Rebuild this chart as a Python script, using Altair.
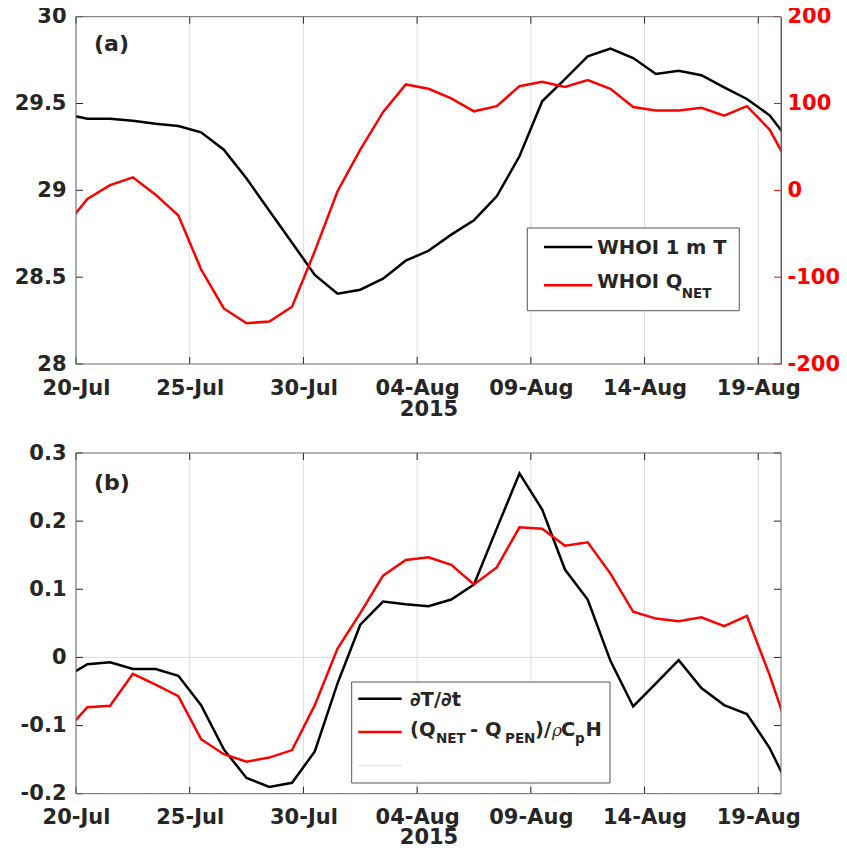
import altair as alt
import pandas as pd

# ---------------- data (daily values at noon, 19-Jul 12:00 .. 20-Aug 12:00, 2015) ----------------
dates = [d.strftime("%Y-%m-%dT%H:%M:%SZ")
         for d in pd.date_range("2015-07-19 12:00", periods=33, freq="D")]

T_1m = [29.439, 29.413, 29.413, 29.401, 29.384, 29.371, 29.334, 29.234, 29.068, 28.883,
        28.698, 28.513, 28.405, 28.428, 28.491, 28.595, 28.652, 28.745, 28.828, 28.966,
        29.196, 29.513, 29.640, 29.772, 29.816, 29.762, 29.670, 29.689, 29.663, 29.593,
        29.526, 29.432, 29.262]

Q_net = [-42, -10, 6, 15, -5, -29, -91, -136, -153, -151,
         -134, -70, -1, 47, 90, 122, 117, 106, 91, 97,
         120, 125, 119, 127, 117, 96, 92, 92, 95, 86,
         97, 70, 22]

dTdt = [-0.030, -0.010, -0.007, -0.017, -0.017, -0.027, -0.070, -0.135, -0.177, -0.190,
        -0.184, -0.138, -0.038, 0.048, 0.082, 0.078, 0.075, 0.085, 0.107, 0.189,
        0.270, 0.217, 0.129, 0.085, -0.005, -0.072, -0.038, -0.004, -0.045, -0.070,
        -0.083, -0.133, -0.201]

Q_term = [-0.110, -0.073, -0.071, -0.024, -0.040, -0.057, -0.120, -0.142, -0.153, -0.147,
          -0.136, -0.070, 0.013, 0.065, 0.120, 0.143, 0.147, 0.136, 0.107, 0.132,
          0.191, 0.189, 0.164, 0.169, 0.123, 0.067, 0.057, 0.053, 0.059, 0.046,
          0.061, -0.026, -0.124]

x_ticks = ["2015-07-20", "2015-07-25", "2015-07-30", "2015-08-04",
           "2015-08-09", "2015-08-14", "2015-08-19"]
x_domain = ["2015-07-20", "2015-08-20"]
t_ticks = [28, 28.5, 29, 29.5, 30]
q_ticks = [-200, -100, 0, 100, 200]
b_ticks = [-0.2, -0.1, 0, 0.1, 0.2, 0.3]
zero_line = [0]

# ---------------- layout constants (pixels, origin = top-left of panel a) ----------------
W = 705
H = 777            # whole drawing area (both panels + gap)
HA = 347.3         # bottom edge of panel (a)
B0 = 436.3         # top edge of panel (b)
FONT = "DejaVu Sans"
DARK = "#262626"
FRAME = "#6b6b6b"
GRID = "#dcdcdc"
TICK = 7
LW = 2.5
MINUS_FIX = "replace(datum.label, '\u2212', '-')"


def dt(s):
    y, m, d = map(int, s.split("-"))
    return alt.DateTime(year=y, month=m, date=d, utc=True)


x_scale = alt.Scale(type="utc", domain=[dt(s) for s in x_domain])


def x_axis(offset, title_pad):
    return alt.Axis(values=[dt(s) for s in x_ticks], format="%d-%b", title="2015",
                    orient="bottom", grid=False, ticks=False, tickSize=0, domain=False,
                    labelPadding=13, titlePadding=title_pad, labelFlush=False,
                    labelOverlap=False, offset=offset)


x_top = alt.X("date:T", scale=x_scale, axis=x_axis(-(H - HA), 0))
x_bot = alt.X("date:T", scale=x_scale, axis=x_axis(0, -1))
x_hidden = alt.X("date:T", scale=x_scale, axis=None)

xt_df = pd.DataFrame({"date": [s + "T00:00:00Z" for s in x_ticks]})


def one():
    return alt.Chart(alt.Data(values=[{"a": 1}]))


def text_layer(txt, x, y, size=19.5, color=DARK, style="normal", weight="bold", font=FONT):
    return one().mark_text(
        text=txt, font=font, fontSize=size, fontWeight=weight, fontStyle=style,
        color=color, align="left", baseline="alphabetic"
    ).encode(x=alt.value(x), y=alt.value(y))


def hline(x1, x2, y, color, width=LW):
    return one().mark_rule(color=color, strokeWidth=width).encode(
        x=alt.value(x1), x2=alt.value(x2), y=alt.value(y))


def box(x1, x2, y1, y2, stroke="#555555", fill_opacity=1):
    return one().mark_rect(fill="white", fillOpacity=fill_opacity, stroke=stroke, strokeWidth=1).encode(
        x=alt.value(x1), x2=alt.value(x2), y=alt.value(y1), y2=alt.value(y2))


def vticks(xenc, y_top, y_bot):
    grid = alt.Chart(xt_df).mark_rule(color=GRID, strokeWidth=1).encode(
        x=xenc, y=alt.value(y_top), y2=alt.value(y_bot))
    tb = alt.Chart(xt_df).mark_rule(color=DARK, strokeWidth=1).encode(
        x=xenc, y=alt.value(y_bot - TICK), y2=alt.value(y_bot))
    tt = alt.Chart(xt_df).mark_rule(color=DARK, strokeWidth=1).encode(
        x=xenc, y=alt.value(y_top), y2=alt.value(y_top + TICK))
    return grid, tb, tt


# ---------------- panel (a) ----------------
top_df = pd.DataFrame({"date": dates, "T": T_1m, "Q": Q_net})

yT = alt.Y("T:Q", scale=alt.Scale(domain=[28, 30], range=[HA, 0]),
           axis=alt.Axis(values=t_ticks, format="~g", title=None, orient="left",
                         ticks=False, tickSize=0, domain=False, grid=False, labelPadding=10))
yQ = alt.Y("Q:Q", scale=alt.Scale(domain=[-200, 200], range=[HA, 0]),
           axis=alt.Axis(values=q_ticks, format="d", title=None, orient="right",
                         ticks=False, tickSize=0, domain=True, domainColor="#ff0000",
                         domainWidth=1, grid=False, labelColor="#ff0000", labelPadding=6,
                         labelExpr=MINUS_FIX))

grid_a, xtb_a, xtt_a = vticks(x_top, 0, HA)
t_line = alt.Chart(top_df).mark_line(color="black", strokeWidth=LW, clip=True).encode(x=x_top, y=yT)
t_ticks_l = alt.Chart(pd.DataFrame({"T": t_ticks})).mark_rule(color=DARK, strokeWidth=1).encode(
    y=yT, x=alt.value(0), x2=alt.value(TICK))
panel_a_left = alt.layer(grid_a, t_line, t_ticks_l, xtb_a, xtt_a)

q_line = alt.Chart(top_df).mark_line(color="#ff0000", strokeWidth=LW, clip=True).encode(x=x_hidden, y=yQ)
q_ticks_r = alt.Chart(pd.DataFrame({"Q": q_ticks})).mark_rule(color="#ff0000", strokeWidth=1).encode(
    y=yQ, x=alt.value(W - TICK), x2=alt.value(W))
panel_a_right = alt.layer(q_line, q_ticks_r)

# ---------------- panel (b) ----------------
series_names = ["dTdt", "Qterm"]
bot_df = pd.DataFrame({
    "date": dates * 2,
    "value": dTdt + Q_term,
    "series": [series_names[0]] * len(dates) + [series_names[1]] * len(dates),
})

yB = alt.Y("value:Q", scale=alt.Scale(domain=[-0.2, 0.3], range=[H, B0]),
           axis=alt.Axis(values=b_ticks, format="~g", title=None, orient="left",
                         ticks=False, tickSize=0, domain=False, grid=False, labelPadding=10,
                         labelExpr=MINUS_FIX))

grid_b, xtb_b, xtt_b = vticks(x_bot, B0, H)
zero = alt.Chart(pd.DataFrame({"value": zero_line})).mark_rule(color=GRID, strokeWidth=1).encode(
    y=yB, x=alt.value(0), x2=alt.value(W))
b_lines = alt.Chart(bot_df).mark_line(strokeWidth=LW, clip=True).encode(
    x=x_bot, y=yB,
    color=alt.Color("series:N", scale=alt.Scale(domain=series_names, range=["black", "#ff0000"]),
                    legend=None),
)
b_ticks_l = alt.Chart(pd.DataFrame({"value": b_ticks})).mark_rule(color=DARK, strokeWidth=1).encode(
    y=yB, x=alt.value(0), x2=alt.value(TICK))
b_ticks_r = alt.Chart(pd.DataFrame({"value": b_ticks})).mark_rule(color=DARK, strokeWidth=1).encode(
    y=yB, x=alt.value(W - TICK), x2=alt.value(W))
panel_b = alt.layer(grid_b, zero, b_lines, b_ticks_l, b_ticks_r, xtb_b, xtt_b)

# ---------------- frames, labels and legends ----------------
ann = alt.layer(
    box(0, W, 0, HA, stroke=FRAME, fill_opacity=0),
    box(0, W, B0, H, stroke=FRAME, fill_opacity=0),
    # panel (a)
    text_layer("(a)", 18, 34.6, size=22),
    box(451.3, 663.3, 211.3, 294),
    hline(468, 516.3, 230.3, "black"),
    hline(468, 516.3, 268.6, "#ff0000"),
    text_layer("WHOI 1 m T", 521.3, 237.3),
    text_layer("WHOI Q", 521.3, 271.3),
    text_layer("NET", 605.7, 281.3, size=13.5),
    # panel (b)
    text_layer("(b)", 18, B0 + 36.7, size=22),
    box(275.7, 534, B0 + 229, B0 + 330),
    hline(282.3, 325.7, B0 + 245.7, "black"),
    hline(282.3, 325.7, B0 + 279, "#ff0000"),
    hline(282.3, 325.7, B0 + 312.7, GRID, width=1),
    text_layer("\u2202T/\u2202t", 334, B0 + 253),
    text_layer("(Q", 334, B0 + 283.3),
    text_layer("NET", 360, B0 + 290, size=13.5),
    text_layer("- Q", 394, B0 + 283.3),
    text_layer("PEN", 429, B0 + 290, size=13.5),
    text_layer(")/", 459, B0 + 283.3),
    text_layer("\u03c1", 476, B0 + 283.3, size=17, style="italic", weight="normal", font="DejaVu Serif"),
    text_layer("C", 485, B0 + 283.3),
    text_layer("p", 499, B0 + 290, size=13.5),
    text_layer("H", 509.5, B0 + 283.3),
)

chart = alt.layer(panel_a_left, panel_a_right, panel_b, ann).resolve_scale(
    x="independent", y="independent"
).properties(
    width=W, height=H,
    autosize=alt.AutoSizeParams(type="none"),
    padding={"left": 68, "top": 8.7, "right": 58, "bottom": 49.8},
).configure(
    font=FONT
).configure_view(
    stroke="transparent", strokeWidth=0
).configure_axis(
    labelFont=FONT, labelFontSize=21, labelFontWeight="bold", labelColor=DARK,
    titleFont=FONT, titleFontSize=21, titleFontWeight="bold", titleColor=DARK,
)

chart.save("out.html", embed_options={"renderer": "svg", "actions": False})
